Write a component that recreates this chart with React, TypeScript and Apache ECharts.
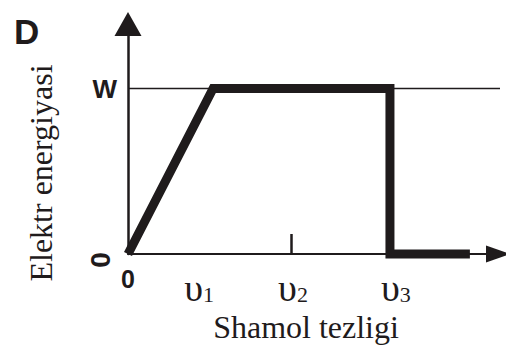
import React, { useEffect, useRef } from "react";
import * as echarts from "echarts";

// ---- data ----
const X_MAX = 10;
const Y_MAX = 1.39;
const POWER_X = [0, 2.3, 7.08, 7.08, 9.24];
const POWER_Y = [0, 1, 1, 0, 0];
const W_LEVEL = 1;
const W_LINE_X = [0, 10.3];
const X_LABEL_VALUES = [0, 1.92, 4.46, 7.24];
const X_LABELS = ["0", "υ1", "υ2", "υ3"];
const X_TICK_VALUES = [4.4];
const Y_TOP_LABEL_VALUES = [1];
const Y_TOP_LABELS = ["W"];
const Y_ZERO_LABEL_VALUES = [0];
const Y_ZERO_LABELS = ["0"];
const TITLE = "D";
const X_NAME = "Shamol tezligi";
const Y_NAME = "Elektr energiyasi";

const INK = "#1f1b1c";
const SANS = "Liberation Sans";
const SERIF = "Liberation Serif";

export default function App() {
  const ref = useRef<HTMLDivElement>(null);
  useEffect(() => {
    if (!ref.current) return;
    const chart = echarts.init(ref.current, null, { renderer: "svg" });
    const option = {
      animation: false,
      backgroundColor: "#ffffff",
      title: {
        text: TITLE,
        left: 14,
        top: 14,
        padding: 0,
        textStyle: { fontFamily: SANS, fontWeight: "bold", fontSize: 35, color: INK, lineHeight: 35 },
      },
      grid: { left: 128, right: 8, top: 24, bottom: 93, containLabel: false, outerBoundsMode: "none" },
      xAxis: {
        type: "value",
        min: 0,
        max: X_MAX,
        name: X_NAME,
        nameLocation: "middle",
        nameGap: 49,
        nameTextStyle: { fontFamily: SERIF, fontSize: 32, color: INK, lineHeight: 32, padding: [0, 14, 0, 0] },
        axisLine: {
          show: true,
          onZero: false,
          symbol: ["none", "triangle"],
          symbolSize: [17, 24],
          lineStyle: { color: INK, width: 2 },
        },
        axisTick: {
          show: true,
          inside: true,
          length: 20,
          customValues: X_TICK_VALUES,
          lineStyle: { color: INK, width: 2.5 },
        },
        axisLabel: {
          show: true,
          margin: 8,
          customValues: X_LABEL_VALUES,
          formatter: (v: number) => {
            let idx = 0;
            let best = Infinity;
            X_LABEL_VALUES.forEach((lv, i) => {
              const d = Math.abs(lv - v);
              if (d < best) { best = d; idx = i; }
            });
            const lab = X_LABELS[idx];
            if (lab === "0") return "{z|0}";
            return `{u|${lab[0]}}{s|${lab.slice(1)}}`;
          },
          rich: {
            z: { fontFamily: SANS, fontWeight: "bold", fontSize: 25, lineHeight: 25, color: INK, padding: [9, 0, 0, 0] },
            u: { fontFamily: SERIF, fontSize: 38, lineHeight: 38, color: INK, padding: [13, 0, 0, 0] },
            s: { fontFamily: SERIF, fontSize: 22, lineHeight: 22, color: INK, padding: [26, 0, 0, 0] },
          },
        },
        splitLine: { show: false },
      },
      yAxis: [
        {
          type: "value",
          min: 0,
          max: Y_MAX,
          name: Y_NAME,
          nameLocation: "middle",
          nameGap: 71,
          nameTextStyle: { fontFamily: SERIF, fontSize: 32, color: INK, lineHeight: 32, padding: [0, 68, 0, 0] },
          axisLine: {
            show: true,
            onZero: false,
            symbol: ["none", "triangle"],
            symbolSize: [27, 24],
            lineStyle: { color: INK, width: 2.5 },
          },
          axisTick: { show: false },
          axisLabel: {
            show: true,
            margin: 11,
            customValues: Y_TOP_LABEL_VALUES,
            formatter: (v: number) => Y_TOP_LABELS[Y_TOP_LABEL_VALUES.indexOf(v)] ?? "",
            fontFamily: SANS,
            fontWeight: "bold",
            fontSize: 26,
            color: INK,
            padding: [5, 0, 0, 0],
          },
          splitLine: { show: false },
        },
        {
          type: "value",
          min: 0,
          max: Y_MAX,
          position: "left",
          axisLine: { show: false },
          axisTick: { show: false },
          axisLabel: {
            show: true,
            margin: 14,
            rotate: 90,
            customValues: Y_ZERO_LABEL_VALUES,
            formatter: (v: number) => Y_ZERO_LABELS[Y_ZERO_LABEL_VALUES.indexOf(v)] ?? "",
            fontFamily: SANS,
            fontWeight: "bold",
            fontSize: 28,
            color: INK,
            padding: [0, 12, 0, 0],
          },
          splitLine: { show: false },
        },
      ],
      series: [
        {
          type: "line",
          xAxisIndex: 0,
          yAxisIndex: 0,
          data: W_LINE_X.map((x) => [x, W_LEVEL]),
          symbol: "none",
          clip: false,
          silent: true,
          lineStyle: { color: INK, width: 1.5 },
          z: 2,
        },
        {
          type: "line",
          xAxisIndex: 0,
          yAxisIndex: 0,
          data: POWER_X.map((x, i) => [x, POWER_Y[i]]),
          symbol: "none",
          clip: false,
          lineStyle: { color: INK, width: 9, join: "miter", cap: "butt" },
          z: 3,
        },
      ],
    };
    chart.setOption(option as any);
    return () => chart.dispose();
  }, []);
  return (
    <div
      ref={ref}
      style={{ position: "absolute", left: 0, top: 0, width: 506, height: 347, background: "#fff" }}
    />
  );
}
